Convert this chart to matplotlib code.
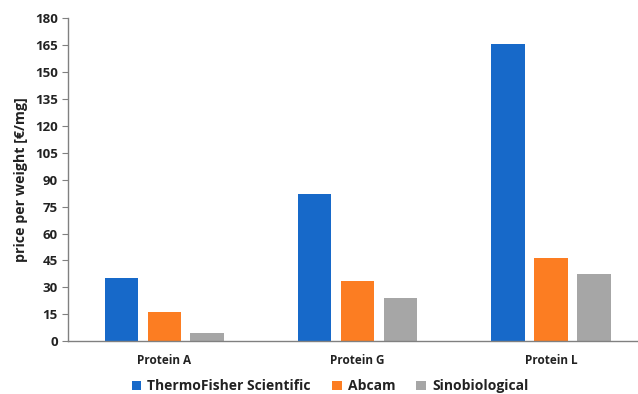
import matplotlib
matplotlib.use("Agg")
import matplotlib.pyplot as plt
import numpy as np

categories = ["Protein A", "Protein G", "Protein L"]
series_names = ["ThermoFisher Scientific", "Abcam", "Sinobiological"]
thermofisher = [35.0, 81.8, 165.5]
abcam = [16.3, 33.4, 46.4]
sinobiological = [4.7, 23.8, 37.7]
yticks = list(range(0, 181, 15))

colors = ["#1769C9", "#FC7D22", "#A6A6A6"]

plt.rcParams['font.family'] = ['Open Sans', 'DejaVu Sans']

fig = plt.figure(figsize=(6.38, 3.94), dpi=100)
ax = fig.add_axes([0.106, 0.134, 0.894, 0.82])

x = np.arange(len(categories))
step = 0.222
width = 0.173
for i, (vals, name, c) in enumerate(zip([thermofisher, abcam, sinobiological], series_names, colors)):
    ax.bar(x + (i - 1) * step, vals, width=width, color=c, label=name)

ax.set_ylim(0, 180)
ax.set_xlim(-0.5, 2.45)
ax.set_yticks(yticks)
ax.set_yticklabels([str(t) for t in yticks], fontsize=9.5, fontweight='bold', color='#222222')
ax.set_xticks(x)
ax.set_xticklabels(categories, fontsize=8.5, fontweight='bold', color='#222222')
ax.tick_params(axis='x', length=0, pad=9)
ax.tick_params(axis='y', length=4, width=0.8, color='#808080', pad=3)

for s in ['top', 'right']:
    ax.spines[s].set_visible(False)
for s in ['left', 'bottom']:
    ax.spines[s].set_color('#808080')
    ax.spines[s].set_linewidth(1.0)

ax.set_ylabel("price per weight [€/mg]", fontsize=10.3, fontweight='bold', color='#222222', labelpad=5)

leg = ax.legend(loc='center', bbox_to_anchor=(0.46, -0.14), ncol=3, frameon=False,
                handlelength=0.7, handleheight=0.7, handletextpad=0.45, columnspacing=1.5,
                prop={'size': 10, 'weight': 'bold'})
for t in leg.get_texts():
    t.set_color('#222222')

fig.savefig("out.png", dpi=100)
